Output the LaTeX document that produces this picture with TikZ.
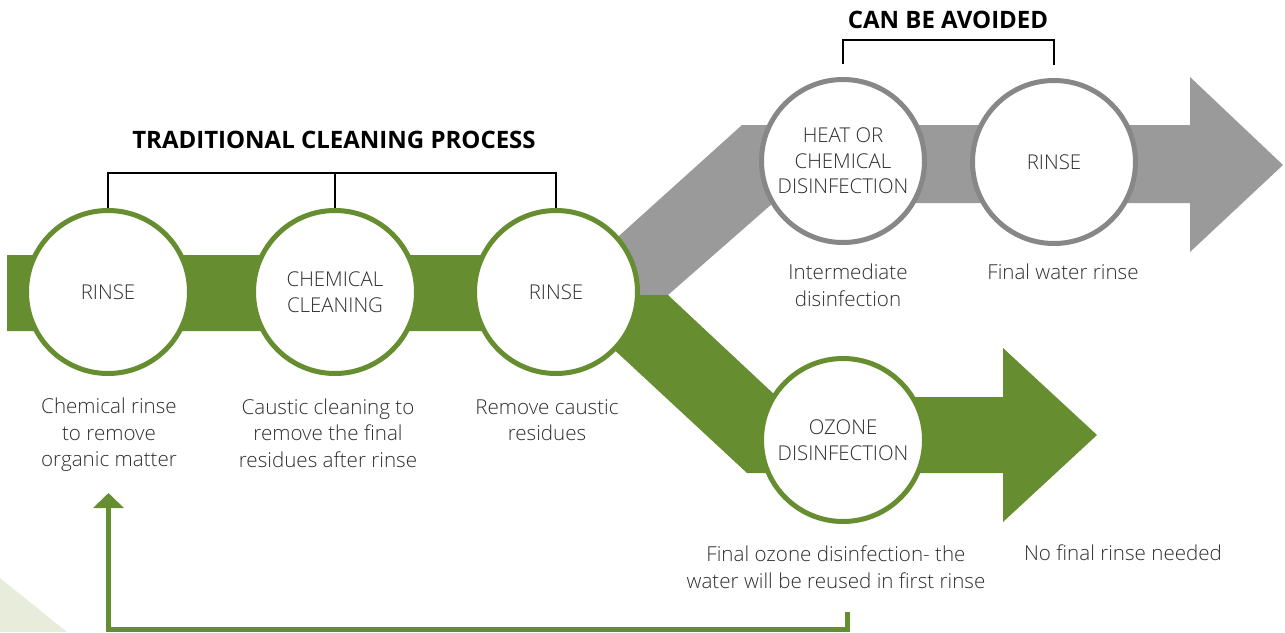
\documentclass[tikz,border=0pt]{standalone}
\usepackage{fontspec}
\setmainfont{Open Sans}[UprightFont={* Light}, BoldFont={* Bold}]
\usepackage{tikz}
\usetikzlibrary{arrows.meta,positioning}
\usepackage{xcolor}
\definecolor{leafgreen}{HTML}{668E30}
\definecolor{bandgray}{HTML}{9A9A9A}
\definecolor{ringgray}{HTML}{878787}
\definecolor{textgray}{HTML}{2E2E2E}
\definecolor{palegreen}{HTML}{E8EDDB}

\begin{document}
\begin{tikzpicture}[x=0.5pt, y=-0.5pt,
    stage/.style={circle, draw, fill=white, line width=2.5pt, minimum size=81.5pt,
        inner sep=0pt, align=center, text=textgray, font=\fontsize{10.2}{12.75}\selectfont},
    greenstage/.style={stage, draw=leafgreen},
    graystage/.style={stage, draw=ringgray},
    note/.style={align=center, text=textgray, font=\fontsize{10.3}{13.3}\selectfont},
    heading/.style={font=\fontsize{12}{14}\selectfont\bfseries},
    bracket/.style={line width=1pt},
    returnline/.style={draw=leafgreen, line width=2.5pt, -{Triangle[width=15pt,length=7.5pt,fill=leafgreen]}}]
    \useasboundingbox (0,0) rectangle (1285,632);

    % Pale corner
    \fill[palegreen] (0,578) -- (67,632) -- (0,632) -- cycle;

    % Gray branch: disinfection + final rinse
    \fill[bandgray] (600,295) -- (668,295) -- (773,203) -- (1190,203) -- (1190,252)
        -- (1283,165) -- (1190,77) -- (1190,125) -- (742,125) -- (600,253) -- cycle;

    % Green branch: cleaning + ozone
    \fill[leafgreen] (7,255) -- (600,255) -- (600,295) -- (668,295) -- (777,397)
        -- (1003,397) -- (1003,348) -- (1097,435) -- (1003,522) -- (1003,473)
        -- (747,473) -- (594,331) -- (7,331) -- cycle;

    % Traditional steps
    \foreach \name/\x/\txt in {c1/108/RINSE, c2/335/{CHEMICAL\\CLEANING}, c3/556/RINSE} {
        \node[greenstage] (\name) at (\x,292) {\txt};
    }

    % Steps that can be avoided
    \node[graystage] (c4) at (843,161) {HEAT OR\\CHEMICAL\\DISINFECTION};
    \node[graystage] (c5) at (1054,162) {RINSE};

    % Ozone step
    \node[greenstage] (c6) at (843,440) {OZONE\\DISINFECTION};

    % Notes under the steps
    \node[note] (n1) at (109,435) {Chemical rinse\\to remove\\organic matter};
    \node[note] (n2) at (328,433) {Caustic cleaning to\\remove the final\\residues after rinse};
    \node[note] (n3) at (547,420) {Remove caustic\\residues};
    \node[note] (n4) at (848,285) {Intermediate\\disinfection};
    \node[note] (n5) at (1063,272) {Final water rinse};
    \node[note] (n6) at (836,567) {Final ozone disinfection- the\\water will be reused in first rinse};
    \node[note] (n7) at (1123,553) {No final rinse needed};

    % Headings and brackets
    \node[heading] (t1) at (334,140) {TRADITIONAL CLEANING PROCESS};
    \node[heading] (t2) at (948,20) {CAN BE AVOIDED};
    \draw[bracket] (c1.north) -- ++(0,-35) -| (c3.north);
    \draw[bracket] (c2.north) -- ++(0,-35);
    \draw[bracket] ([yshift=6.5pt]c4.north) -- ++(0,-24) -| ([yshift=6.5pt]c5.north);

    % Water goes back to the first rinse
    \coordinate (ret) at (847.5,612);
    \coordinate (back) at (108.5,493);
    \draw[returnline] (ret) -- ++(0,17.5) -| (back);
\end{tikzpicture}
\end{document}
